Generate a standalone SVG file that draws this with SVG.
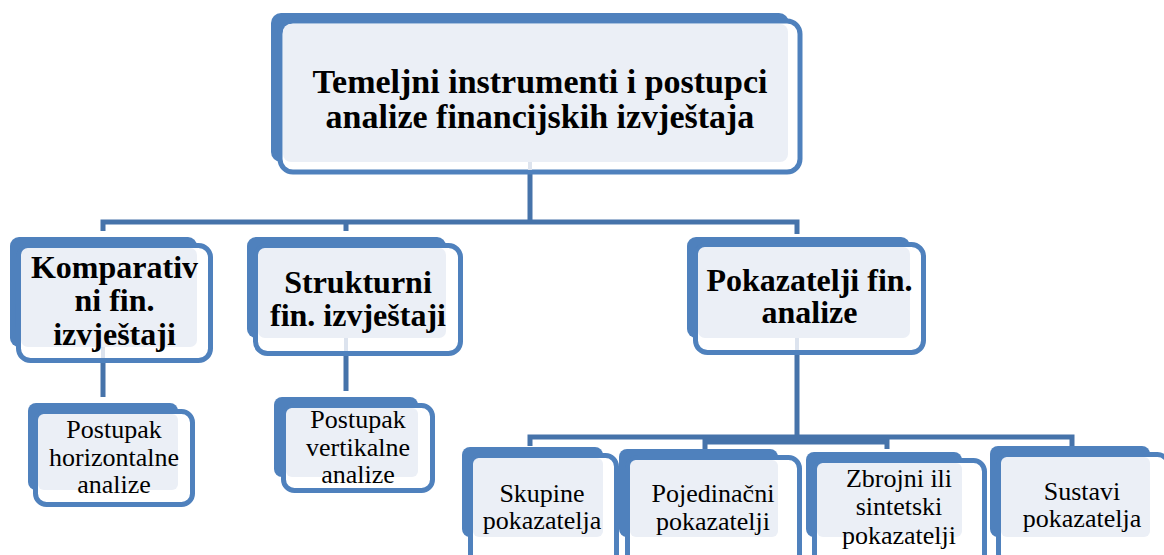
<svg xmlns="http://www.w3.org/2000/svg" width="1164" height="555" viewBox="0 0 1164 555">
<style>
.sh{fill:#4F81BD}
.wb{fill:#FFFFFF;stroke:#4F81BD;stroke-width:5}
.lf{fill:#EBEFF6}
.cn{fill:none;stroke:#4673AA;stroke-width:5}
.cl{fill:none;stroke:#DCE3EE;stroke-width:4}
text{font-family:'Liberation Serif','Times New Roman','DejaVu Serif',serif;fill:#000;text-anchor:middle}
.t1{font-weight:bold;font-size:34px}
.t2{font-weight:bold;font-size:32px}
.t3{font-size:26px}
</style>
<rect width="1164" height="555" fill="#FFFFFF"/>
<g id="connectors">
<path class="cn" d="M530,174 V222 M103,231 V222 H797 V234 M346,222 V231"/>
<path class="cn" d="M103,363 V397 M346,356 V391"/>
<path class="cn" d="M797,355 V437 M530,446 V437 H1072 V446 M705,449 V442 H887 V449"/>
</g>
<g id="n-top">
<rect class="sh" x="271" y="13" width="518" height="149" rx="10"/>
<rect class="wb" x="280" y="21" width="520" height="151" rx="13"/>
<rect class="lf" x="283" y="24" width="505" height="138" rx="8"/>
<line class="cl" x1="530" y1="162" x2="530" y2="170"/>
<text class="t1" x="540" y="93" font-family="Liberation Serif, serif">Temeljni instrumenti i postupci</text>
<text class="t1" x="540" y="128" font-family="Liberation Serif, serif">analize financijskih izvještaja</text>
</g>
<g id="n-komparativni">
<rect class="sh" x="10" y="237" width="187" height="110" rx="9"/>
<rect class="wb" x="18.5" y="245.5" width="192" height="115" rx="12"/>
<rect class="lf" x="21" y="248" width="176" height="99" rx="7"/>
<line class="cl" x1="103" y1="347" x2="103" y2="358"/>
<text class="t2" x="114.5" y="278">Komparativ</text>
<text class="t2" x="114.5" y="311">ni fin.</text>
<text class="t2" x="114.5" y="345">izvještaji</text>
</g>
<g id="n-strukturni">
<rect class="sh" x="247" y="237" width="199" height="101" rx="9"/>
<rect class="wb" x="255.5" y="245.5" width="205" height="108" rx="12"/>
<rect class="lf" x="258" y="248" width="188" height="90" rx="7"/>
<line class="cl" x1="346" y1="338" x2="346" y2="351"/>
<text class="t2" x="358" y="293">Strukturni</text>
<text class="t2" x="358" y="326">fin. izvještaji</text>
</g>
<g id="n-pokazatelji">
<rect class="sh" x="687" y="237" width="223" height="101" rx="9"/>
<rect class="wb" x="695.5" y="244.5" width="228" height="108" rx="12"/>
<rect class="lf" x="698" y="247" width="212" height="91" rx="7"/>
<line class="cl" x1="797" y1="338" x2="797" y2="350"/>
<text class="t2" x="809.5" y="291">Pokazatelji fin.</text>
<text class="t2" x="809.5" y="323">analize</text>
</g>
<g id="n-horizontalne">
<rect class="sh" x="28" y="403" width="150" height="87" rx="8"/>
<rect class="wb" x="35.5" y="411.5" width="157" height="93" rx="11"/>
<rect class="lf" x="38" y="414" width="140" height="76" rx="6"/>
<text class="t3" x="114" y="438">Postupak</text>
<text class="t3" x="114" y="466">horizontalne</text>
<text class="t3" x="114" y="493">analize</text>
</g>
<g id="n-vertikalne">
<rect class="sh" x="274" y="397" width="144" height="80" rx="8"/>
<rect class="wb" x="283.5" y="405.5" width="149" height="85" rx="11"/>
<rect class="lf" x="286" y="408" width="132" height="69" rx="6"/>
<text class="t3" x="358" y="428">Postupak</text>
<text class="t3" x="358" y="456">vertikalne</text>
<text class="t3" x="358" y="483">analize</text>
</g>
<g id="n-skupine">
<rect class="sh" x="462" y="447" width="141" height="90" rx="8"/>
<rect class="wb" x="470.5" y="455.5" width="146" height="110" rx="11"/>
<rect class="lf" x="473" y="458" width="130" height="79" rx="6"/>
<text class="t3" x="542" y="502">Skupine</text>
<text class="t3" x="542" y="529">pokazatelja</text>
</g>
<g id="n-pojedinacni">
<rect class="sh" x="619" y="449" width="159" height="88" rx="8"/>
<rect class="wb" x="627.5" y="457.5" width="172" height="110" rx="11"/>
<rect class="lf" x="630" y="460" width="148" height="77" rx="6"/>
<text class="t3" x="713" y="502">Pojedinačni</text>
<text class="t3" x="713" y="530">pokazatelji</text>
</g>
<g id="n-zbrojni">
<rect class="sh" x="806" y="452" width="156" height="85" rx="8"/>
<rect class="wb" x="814.5" y="460.5" width="170" height="110" rx="11"/>
<rect class="lf" x="817" y="463" width="145" height="74" rx="6"/>
<text class="t3" x="899" y="487">Zbrojni ili</text>
<text class="t3" x="899" y="515">sintetski</text>
<text class="t3" x="899" y="544">pokazatelji</text>
</g>
<g id="n-sustavi">
<rect class="sh" x="990" y="446" width="160" height="91" rx="8"/>
<rect class="wb" x="998.5" y="454.5" width="170" height="110" rx="11"/>
<rect class="lf" x="1001" y="457" width="149" height="80" rx="6"/>
<text class="t3" x="1082" y="500">Sustavi</text>
<text class="t3" x="1082" y="527">pokazatelja</text>
</g>
</svg>
